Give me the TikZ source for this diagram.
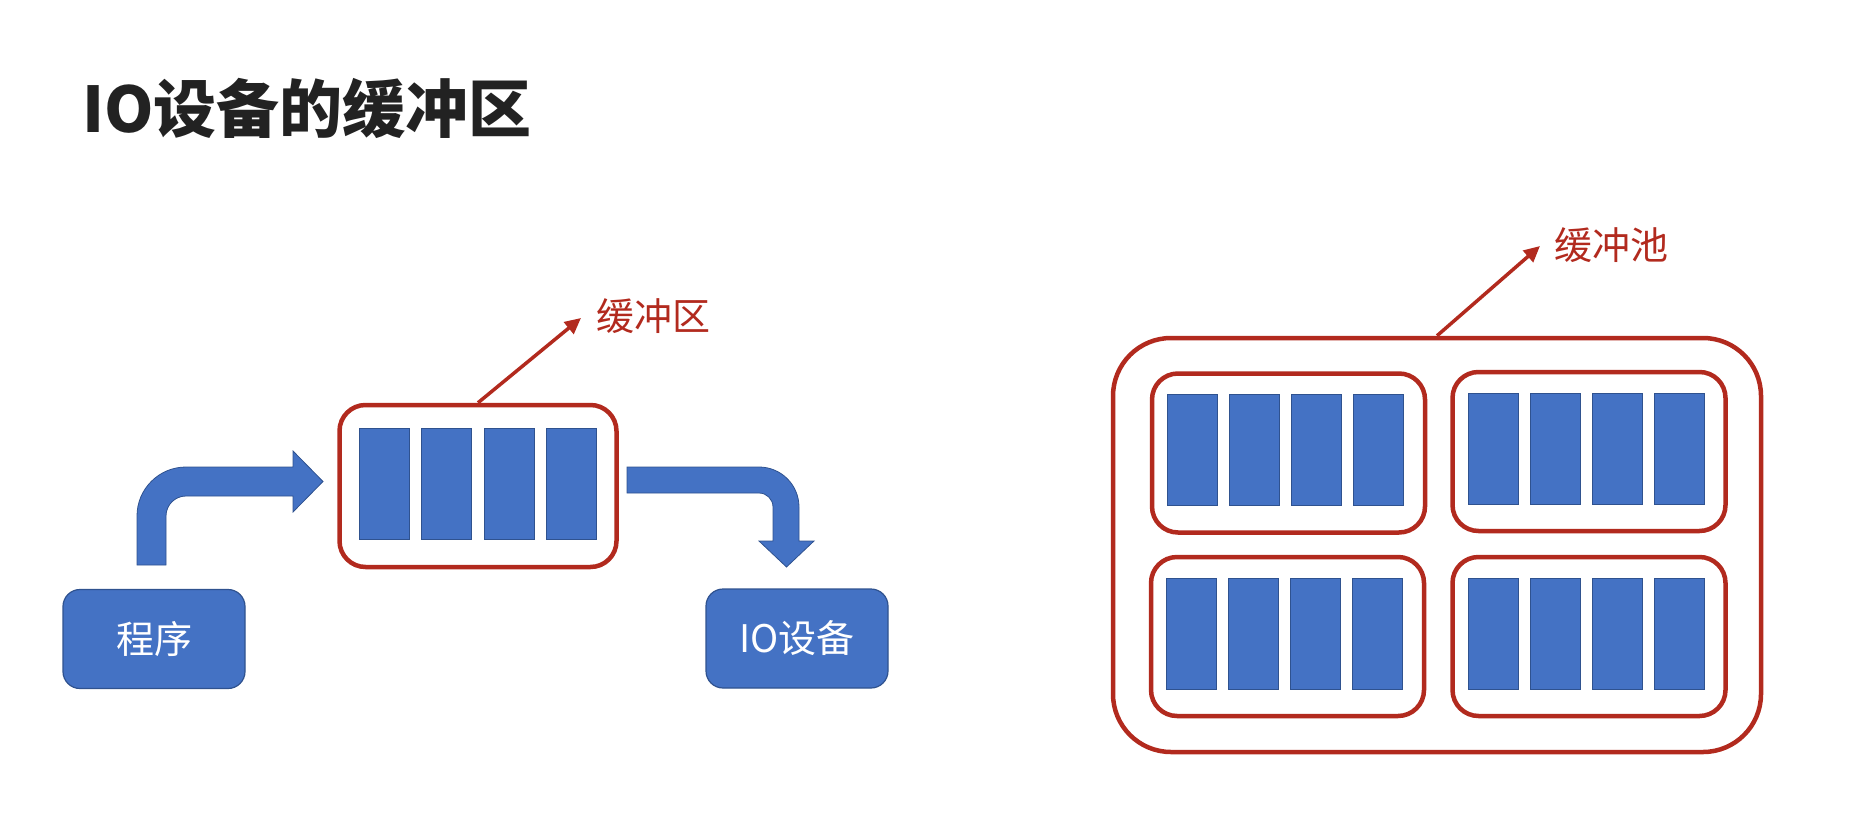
\documentclass[tikz,border=0pt]{standalone}
\usepackage{fontspec}
\setmainfont{Noto Sans CJK SC}
\usetikzlibrary{arrows.meta,calc}
\definecolor{cellblue}{HTML}{4472C4}
\definecolor{cellline}{HTML}{2F528F}
\definecolor{boxred}{RGB}{178,42,30}
\definecolor{titlegray}{HTML}{222222}
\tikzset{
  cell/.style={draw=cellline, fill=cellblue, line width=1pt, minimum width=50pt, minimum height=111pt, inner sep=0pt},
  redbox/.style={draw=boxred, fill=white, line width=4.5pt, rounded corners=26pt, inner sep=0pt},
  bluebox/.style={draw=cellline, fill=cellblue, line width=1.2pt, rounded corners=17pt, minimum width=182pt, minimum height=99pt, inner sep=0pt, text=white, font=\fontsize{38}{40}\selectfont},
  redlabel/.style={text=boxred, inner sep=0pt, font=\fontsize{38}{40}\selectfont},
  pointer/.style={draw=boxred, line width=3.5pt, -{Triangle[length=16pt,width=15pt]}},
  blockarrow/.style={fill=cellblue, draw=cellline, line width=0.8pt}
}
\begin{document}
\begin{tikzpicture}[x=1pt,y=-1pt]
\useasboundingbox (0,0) rectangle (1852,817);
% title
\node[anchor=west, inner sep=0pt, text=titlegray, font=\bfseries\fontsize{63}{66}\selectfont] (title) at (82,108) {IO设备的缓冲区};

% left part
\node[bluebox] (prog) at (154,639) {程序};
\node[bluebox] (io) at (797,638.5) {IO设备};
\node[redbox, minimum width=277pt, minimum height=162pt] (buf) at (478,486) {};
\foreach \k in {1,...,4}
  \node[cell] (buf-c\k) at ($(buf)+({(\k-2.5)*62.5},-2)$) {};
\node[redlabel] (buflabel) at (653,316.5) {缓冲区};
\coordinate (buftip) at (581,318);
\draw[pointer] (buf.north) -- (buftip);

% block arrow program -> buffer
\path[blockarrow] (137,565) -- (137,516) arc[start angle=180,end angle=270,radius=49]
  -- (293,467) -- (293,451) -- (323,481.5) -- (293,512) -- (293,496) -- (186,496)
  arc[start angle=270,end angle=180,radius=20] -- (166,565) -- cycle;
% block arrow buffer -> IO device
\path[blockarrow] (627,467) -- (759,467) arc[start angle=270,end angle=360,radius=40]
  -- (799,541) -- (814,541) -- (786.5,567) -- (759,541) -- (773,541) -- (773,507)
  arc[start angle=0,end angle=-90,radius=14] -- (627,493) -- cycle;

% right part: buffer pool
\node[redbox, rounded corners=58pt, minimum width=648pt, minimum height=414pt] (pool) at (1437,545) {};
\node[redlabel] (poollabel) at (1611,245) {缓冲池};
\coordinate (pooltip) at (1540,246);
\draw[pointer] (pool.north) -- (pooltip);
\foreach \n/\cx/\cy in {ptl/1288.5/453, ptr/1589/451.5, pbl/1287.5/636.5, pbr/1589/636.5}{
  \node[redbox, minimum width=273pt, minimum height=159pt] (\n) at (\cx,\cy) {};
  \foreach \k in {1,...,4}
    \node[cell] (\n-c\k) at ($(\n)+({(\k-2.5)*62-3},-3)$) {};
}
\end{tikzpicture}
\end{document}
